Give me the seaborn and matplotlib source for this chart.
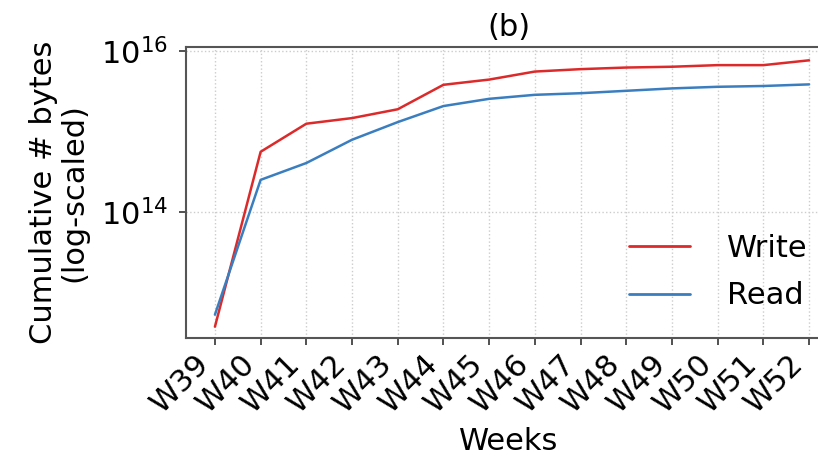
import numpy as np
import pandas as pd
import matplotlib
matplotlib.use("Agg")
import matplotlib.pyplot as plt
import seaborn as sns

weeks = ["W39", "W40", "W41", "W42", "W43", "W44", "W45", "W46", "W47", "W48", "W49", "W50", "W51", "W52"]
write_log = [12.57, 14.75, 15.10, 15.17, 15.28, 15.585, 15.65, 15.75, 15.78, 15.80, 15.81, 15.83, 15.83, 15.89]
read_log = [12.72, 14.40, 14.61, 14.90, 15.12, 15.32, 15.41, 15.46, 15.48, 15.51, 15.54, 15.56, 15.57, 15.59]

df = pd.DataFrame({
    "week": list(range(len(weeks))) * 2,
    "bytes": [10 ** v for v in write_log] + [10 ** v for v in read_log],
    "op": ["Write"] * len(weeks) + ["Read"] * len(weeks),
})

sns.set_style("white")
plt.rcParams['font.family'] = ['DejaVu Sans']
plt.rcParams['text.color'] = 'black'
plt.rcParams['axes.labelcolor'] = 'black'
plt.rcParams['xtick.color'] = 'black'
plt.rcParams['ytick.color'] = 'black'

FS = 22
fig = plt.figure(figsize=(8.18, 4.61), dpi=100)
ax = fig.add_axes([0.227, 0.267, 0.79, 0.630])

pal = {"Write": "#dc2a2a", "Read": "#3a7ebf"}
sns.lineplot(data=df, x="week", y="bytes", hue="op", palette=pal, ax=ax, linewidth=1.8,
             hue_order=["Write", "Read"])

ax.set_yscale("log")
ax.set_ylim(10 ** 12.43, 10 ** 16.05)
ax.set_yticks([1e14, 1e16])
ax.yaxis.set_minor_locator(matplotlib.ticker.NullLocator())
ax.set_xlim(-0.64, 13.5)
ax.set_xticks(range(len(weeks)))
ax.set_xticklabels(weeks, rotation=45, ha="right", rotation_mode="default", fontsize=FS)
ax.tick_params(axis="y", labelsize=FS, pad=8)
ax.tick_params(axis="both", which="major", length=5, width=1.2, color="#333333", direction="out",
               bottom=True, left=True)
ax.tick_params(axis="x", pad=3)
ax.grid(True, which="major", linestyle=":", color="#cccccc", linewidth=1)

for s in ax.spines.values():
    s.set_color("#555555")
    s.set_linewidth(1.5)

ax.set_xlabel("Weeks", fontsize=FS, labelpad=6)
ax.set_ylabel("Cumulative # bytes\n(log-scaled)", fontsize=FS, linespacing=1.05, labelpad=9)
ax.set_title("(b)", fontsize=FS, pad=8)

leg = ax.legend(loc="lower right", bbox_to_anchor=(1.005, 0.0), frameon=False, fontsize=FS,
                handlelength=2.0, labelspacing=0.6, handletextpad=1.2)
for line in leg.get_lines():
    line.set_linewidth(2.0)

fig.savefig("out.png", dpi=100)
